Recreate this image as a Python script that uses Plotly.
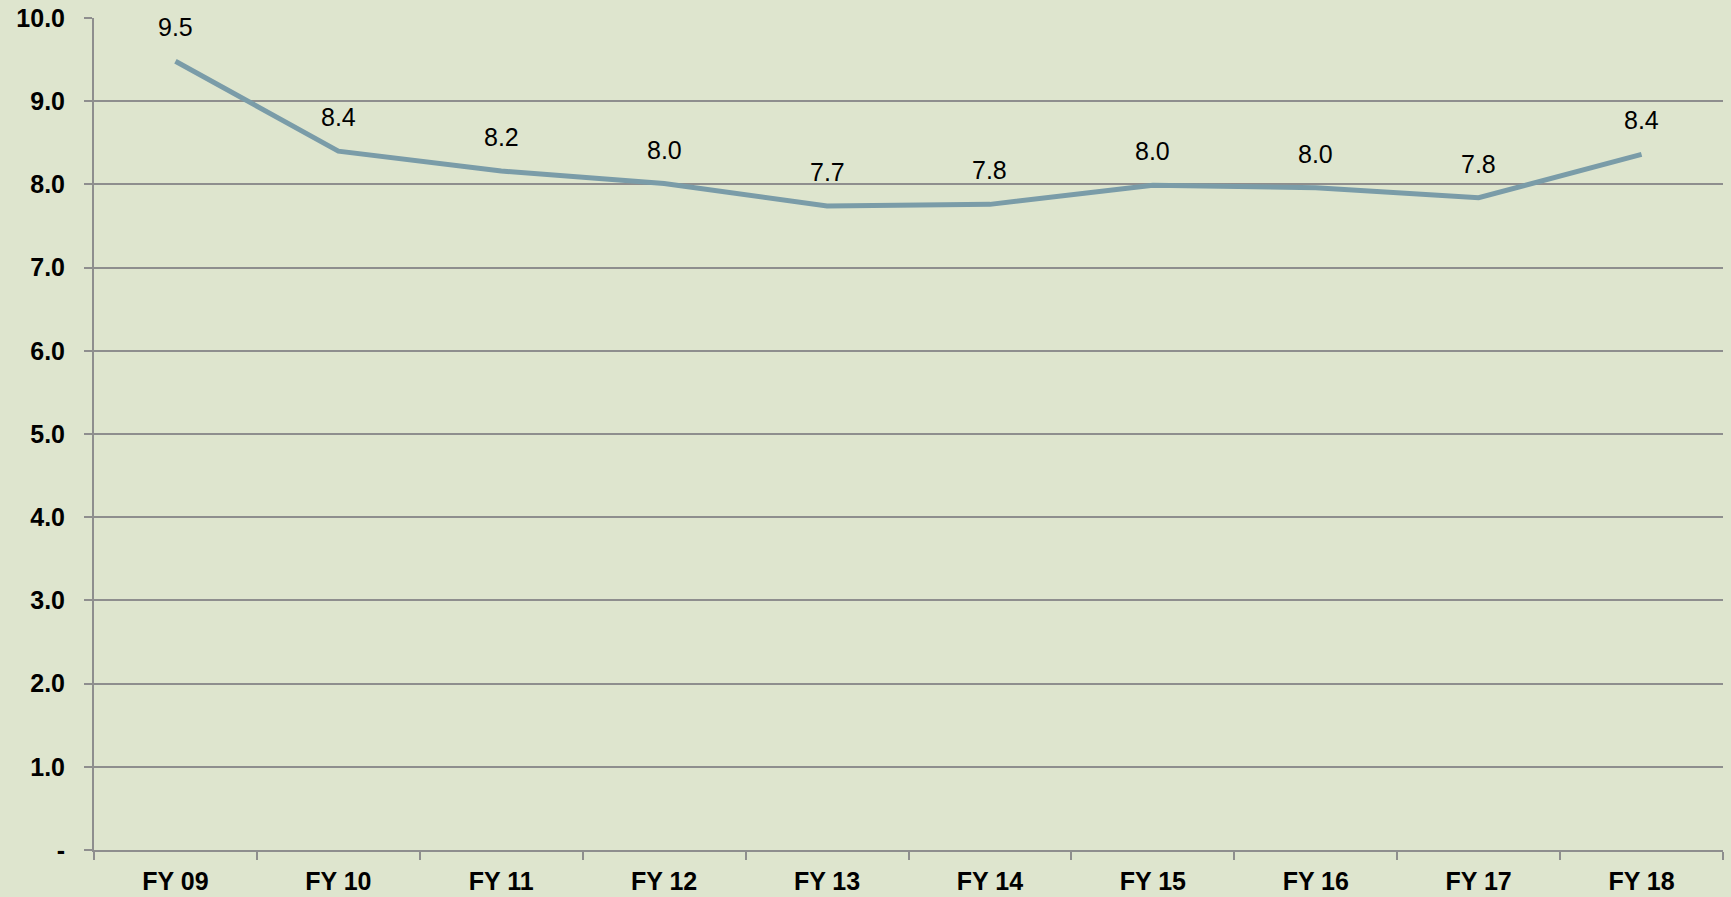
import plotly.graph_objects as go

categories = ["FY 09", "FY 10", "FY 11", "FY 12", "FY 13", "FY 14", "FY 15", "FY 16", "FY 17", "FY 18"]
values = [9.48, 8.40, 8.16, 8.01, 7.74, 7.76, 7.99, 7.96, 7.84, 8.36]
y_tickvals = [0, 1, 2, 3, 4, 5, 6, 7, 8, 9, 10]
y_ticktext = ["-", "1.0", "2.0", "3.0", "4.0", "5.0", "6.0", "7.0", "8.0", "9.0", "10.0"]

bg = "#DEE5CE"
grid = "#8E8E8E"
line_color = "#7A9CA8"

fig = go.Figure()
fig.add_trace(go.Scatter(
    x=categories, y=values, mode="lines",
    line=dict(color=line_color, width=5),
    hoverinfo="skip", showlegend=False,
))

for c, v in zip(categories, values):
    fig.add_annotation(
        x=c, y=v, text=f"{v:.1f}", showarrow=False,
        yshift=34, yanchor="middle",
        font=dict(family="Liberation Sans, Arial, sans-serif", size=25, color="#000000"),
    )

fig.update_layout(
    width=1731, height=897,
    paper_bgcolor=bg, plot_bgcolor=bg,
    margin=dict(l=94, r=8, t=18, b=47, autoexpand=False),
    showlegend=False,
)
fig.update_xaxes(
    type="category",
    automargin=False,
    showgrid=False,
    showline=True, linecolor=grid, linewidth=2,
    ticks="outside", tickson="boundaries", ticklen=8, tickwidth=2, tickcolor=grid,
    tickfont=dict(family="Liberation Sans, Arial, sans-serif", size=25, color="#000000", weight="bold"),
    ticklabelstandoff=8,
    range=[-0.5, 9.5],
)
fig.update_yaxes(
    range=[0, 10],
    automargin=False,
    tickvals=y_tickvals, ticktext=y_ticktext,
    showgrid=True, gridcolor=grid, gridwidth=1.5,
    showline=True, linecolor=grid, linewidth=2,
    ticks="outside", ticklen=8, tickwidth=2, tickcolor=grid,
    tickfont=dict(family="Liberation Sans, Arial, sans-serif", size=25, color="#000000", weight="bold"),
    zeroline=False,
    ticklabelstandoff=14,
)

fig.write_html("out.html")
